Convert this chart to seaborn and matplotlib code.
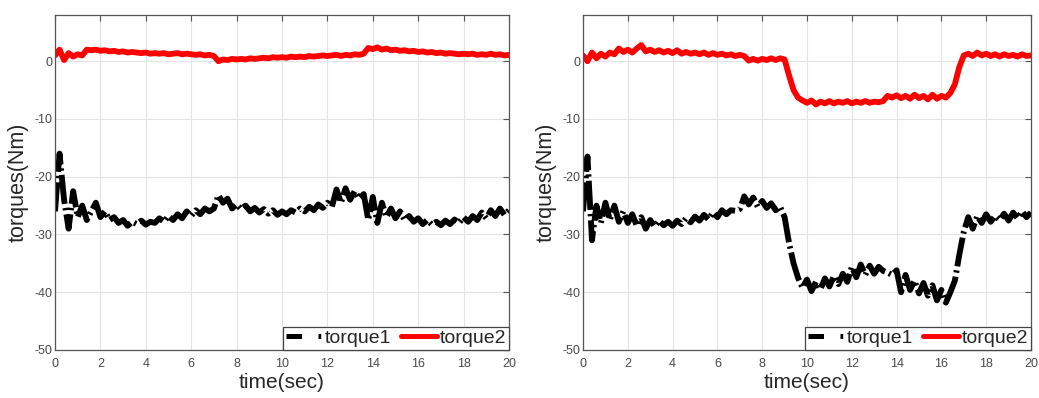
import numpy as np
import pandas as pd
import matplotlib
matplotlib.use("Agg")
import matplotlib.pyplot as plt
from matplotlib.lines import Line2D
import seaborn as sns

# ---------------- data (0.2 s sampling) ----------------
time = np.round(np.arange(0, 20.0001, 0.2), 1)

left_torque1 = [
    -26.0, -16.0, -24.0, -29.0, -22.5, -27.0, -25.0, -27.5, -26.0, -24.5,
    -27.0, -26.0, -27.5, -27.0, -28.0, -27.5, -28.5, -27.8, -28.2, -27.6,
    -28.3, -27.8, -28.0, -27.2, -27.8, -26.8, -27.5, -26.5, -27.2, -26.0,
    -26.8, -25.8, -26.5, -25.5, -26.0, -25.5, -23.2, -24.5, -23.8, -25.5,
    -24.8, -25.6, -25.0, -26.0, -25.4, -26.2, -25.6, -26.4, -25.8, -26.6,
    -26.0, -26.5, -25.8, -26.2, -25.5, -26.0, -25.2, -25.8, -24.8, -25.4,
    -24.5, -25.2, -22.2, -24.5, -22.0, -24.0, -22.5, -23.8, -23.0, -27.5,
    -23.5, -28.0, -24.5, -27.0, -25.5, -27.2, -26.0, -27.5, -26.8, -27.8,
    -27.2, -28.2, -27.5, -28.3, -27.8, -28.4, -27.6, -28.2, -27.4, -28.0,
    -27.0, -27.8, -26.8, -27.5, -26.2, -27.2, -25.8, -26.8, -25.5, -26.6,
    -25.8,
]
left_torque2 = [
    1.0, 2.0, 0.2, 1.4, 0.8, 1.2, 1.0, 2.0, 1.9, 2.0,
    1.8, 1.9, 1.7, 1.8, 1.6, 1.7, 1.5, 1.6, 1.5, 1.4,
    1.5, 1.3, 1.4, 1.3, 1.4, 1.2, 1.3, 1.4, 1.2, 1.3,
    1.2, 1.1, 1.2, 1.0, 1.1, 0.9, 0.0, 0.3, 0.2, 0.4,
    0.3, 0.4, 0.3, 0.5, 0.4, 0.5, 0.6, 0.5, 0.7, 0.6,
    0.7, 0.6, 0.8, 0.7, 0.8, 0.7, 0.9, 0.8, 0.9, 1.0,
    0.9, 1.0, 1.1, 0.9, 1.1, 1.0, 1.2, 1.1, 1.3, 2.3,
    2.1, 2.4, 2.0, 2.2, 1.9, 2.0, 1.8, 1.9, 1.7, 1.8,
    1.6, 1.7, 1.5, 1.6, 1.4, 1.5, 1.3, 1.4, 1.3, 1.2,
    1.3, 1.2, 1.3, 1.1, 1.2, 1.1, 1.3, 1.1, 1.2, 1.0,
    1.1,
]
right_torque1 = [
    -26.0, -16.5, -31.0, -25.0, -28.0, -24.5, -27.5, -25.0, -27.8, -26.0,
    -28.0, -26.5, -28.5, -27.0, -29.0, -27.5, -28.6, -27.6, -28.4, -27.8,
    -28.5, -27.6, -28.2, -27.2, -27.9, -26.9, -27.6, -26.6, -27.4, -26.2,
    -27.0, -25.8, -26.5, -25.8, -25.9, -25.6, -23.4, -24.8, -23.6, -25.2,
    -24.2, -25.4, -24.6, -25.8, -25.2, -27.0, -31.5, -35.0, -37.5, -39.2,
    -37.8, -39.8, -38.2, -39.5, -37.6, -39.0, -37.2, -38.6, -36.8, -38.2,
    -35.6, -37.4, -35.2, -37.0, -35.4, -36.8, -35.6, -36.3, -36.6, -37.0,
    -36.2, -40.0, -37.0, -39.6, -38.0, -40.2, -38.4, -40.6, -38.8, -41.4,
    -39.6, -41.8, -40.0, -38.0, -33.5, -29.5, -27.0, -29.0, -26.8, -28.0,
    -26.5, -27.8, -26.8, -27.5, -26.4, -27.6, -26.2, -27.2, -26.0, -27.0,
    -26.2,
]
right_torque2 = [
    1.0, 0.0, 1.5, 0.5, 1.3, 0.8, 1.5, 1.2, 2.2, 1.6,
    2.0, 1.5, 2.2, 2.8, 1.7, 2.0, 1.6, 1.9, 1.5, 1.8,
    1.4, 1.9, 1.3, 1.6, 1.3, 1.5, 1.2, 1.5, 1.1, 1.4,
    1.1, 1.3, 1.0, 1.2, 0.9, 1.1, 0.9, 0.1, 0.4, 0.1,
    0.4, 0.2, 0.5, 0.2, 0.5, 0.3, -2.5, -5.0, -6.3, -6.8,
    -7.2, -6.8, -7.5, -7.0, -7.3, -6.9, -7.3, -7.0, -7.2, -6.9,
    -7.3, -7.0, -7.2, -6.9, -7.2, -7.0, -7.1, -6.9, -6.0, -6.3,
    -5.9, -6.4, -6.0, -6.5, -5.8, -6.4, -6.0, -6.6, -5.8, -6.5,
    -6.0, -6.3, -5.5, -4.0, -1.0, 1.0, 1.3, 0.9, 1.5, 1.0,
    1.3, 0.9, 1.2, 0.8, 1.2, 0.9, 1.1, 0.8, 1.2, 0.9,
    1.0,
]

x_ticks = [0, 2, 4, 6, 8, 10, 12, 14, 16, 18, 20]
y_ticks = [-50, -40, -30, -20, -10, 0]
series_names = ["torque1", "torque2"]

# ---------------- style ----------------
sns.set_style("white")
plt.rcParams["font.family"] = ["Liberation Sans", "DejaVu Sans"]

fig = plt.figure(figsize=(10.39, 3.98), dpi=100)
ax_left = fig.add_axes([55 / 1039, 48 / 398, 454 / 1039, 335 / 398])
ax_right = fig.add_axes([583 / 1039, 48 / 398, 448 / 1039, 335 / 398])

black_dash = (5.0, 0.7, 0.4, 0.7)
legend_dash = (3.1, 3.3, 0.55, 3.3)

for ax, t1, t2 in [(ax_left, left_torque1, left_torque2),
                   (ax_right, right_torque1, right_torque2)]:
    df1 = pd.DataFrame({"time": time, "torque": t1})
    df2 = pd.DataFrame({"time": time, "torque": t2})
    sns.lineplot(data=df1, x="time", y="torque", ax=ax, color="black",
                 linewidth=4.2, estimator=None, sort=False, legend=False)
    ax.lines[-1].set_dashes(black_dash)
    sns.lineplot(data=df2, x="time", y="torque", ax=ax, color="#ff0000",
                 linewidth=4.2, estimator=None, sort=False, legend=False)

    ax.set_xlim(0, 20)
    ax.set_ylim(-50, 8)
    ax.set_xticks(x_ticks)
    ax.set_yticks(y_ticks)
    ax.set_xticklabels([str(v) for v in x_ticks])
    ax.set_yticklabels([str(v) for v in y_ticks])
    ax.grid(True, color="#e3e3e3", linewidth=0.8)
    ax.set_axisbelow(True)
    for sp in ax.spines.values():
        sp.set_visible(True)
        sp.set_color("#555555")
        sp.set_linewidth(0.9)
    ax.tick_params(axis="both", direction="in", length=4, width=0.8,
                   color="#555555", labelcolor="#4a4a4a", labelsize=9,
                   top=True, right=True)
    ax.tick_params(axis="x", pad=6)
    ax.tick_params(axis="y", pad=2)
    ax.set_xlabel("time(sec)", fontsize=15, color="#262626", labelpad=2)
    ax.set_ylabel("torques(Nm)", fontsize=15.5, color="#262626", labelpad=4)

    handles = [
        Line2D([], [], color="black", linewidth=3.6, dashes=legend_dash),
        Line2D([], [], color="#ff0000", linewidth=3.6),
    ]
    leg = ax.legend(handles, series_names, loc="lower right", ncol=2,
                    fontsize=14, frameon=True, fancybox=False,
                    borderaxespad=0.0, borderpad=0.15, handlelength=1.85,
                    handletextpad=0.15, columnspacing=0.5, framealpha=1)
    leg.get_frame().set_edgecolor("#444444")
    leg.get_frame().set_linewidth(0.9)

fig.savefig("out.png", dpi=100)
